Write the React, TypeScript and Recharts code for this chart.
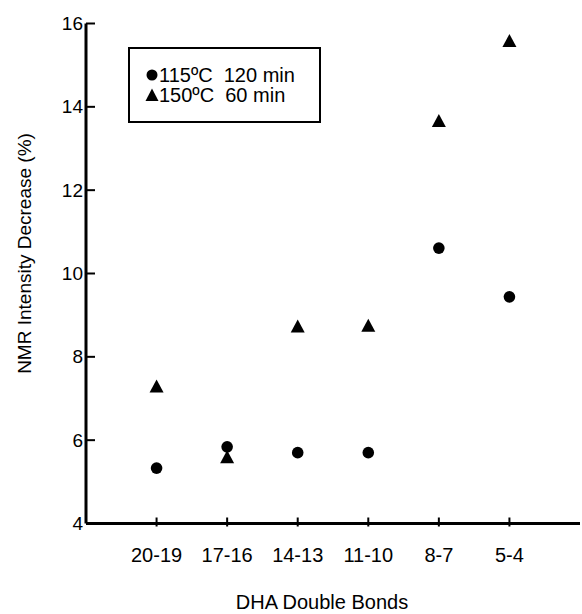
import React from "react";
import { ScatterChart, Scatter, XAxis, YAxis, Customized } from "recharts";

const categories = ["20-19", "17-16", "14-13", "11-10", "8-7", "5-4"];
const series115 = [5.33, 5.84, 5.7, 5.7, 10.61, 9.44];
const series150 = [7.3, 5.6, 8.74, 8.76, 13.67, 15.59];
const yTicks = [4, 6, 8, 10, 12, 14, 16];
const xTicks = [1, 2, 3, 4, 5, 6];
const legendLabels = ["115ºC  120 min", "150ºC  60 min"];

const FONT = "'Liberation Sans', Arial, Helvetica, sans-serif";

const data115 = categories.map((c, i) => ({ x: i + 1, y: series115[i], cat: c }));
const data150 = categories.map((c, i) => ({ x: i + 1, y: series150[i], cat: c }));

const CircleShape = (props: any) => {
  const { cx, cy } = props;
  if (cx == null || cy == null) return null;
  return <circle cx={cx} cy={cy} r={5.8} fill="#000" />;
};

const TriangleShape = (props: any) => {
  const { cx, cy } = props;
  if (cx == null || cy == null) return null;
  const w = 14;
  const h = 13;
  const pts = `${cx},${cy - h / 2} ${cx - w / 2},${cy + h / 2} ${cx + w / 2},${cy + h / 2}`;
  return <polygon points={pts} fill="#000" />;
};

const YTick = (props: any) => {
  const { x, y, payload } = props;
  return (
    <g>
      <line x1={x} x2={x + 9} y1={y} y2={y} stroke="#000" strokeWidth={2} />
      <text x={x - 3} y={y} textAnchor="end" dominantBaseline="central" fontSize={19} fontFamily={FONT} fill="#000">
        {payload.value}
      </text>
    </g>
  );
};

const XTick = (props: any) => {
  const { x, y, payload } = props;
  const label = categories[payload.value - 1] ?? "";
  return (
    <g>
      <line x1={x} x2={x} y1={y - 6} y2={y + 3} stroke="#000" strokeWidth={2} />
      <text x={x} y={y + 38} textAnchor="middle" fontSize={20} fontFamily={FONT} fill="#000">
        {label}
      </text>
    </g>
  );
};

const LegendBox = () => (
  <g>
    <rect x={129} y={48} width={191} height={74} fill="#fff" stroke="#000" strokeWidth={2} />
    <circle cx={152} cy={75} r={5.5} fill="#000" />
    <polygon points="152,88.5 145.5,101 158.5,101" fill="#000" />
    <text x={159} y={82} fontSize={20} fontFamily={FONT} fill="#000" style={{ whiteSpace: "pre" }}>
      {legendLabels[0]}
    </text>
    <text x={159} y={102} fontSize={20} fontFamily={FONT} fill="#000" style={{ whiteSpace: "pre" }}>
      {legendLabels[1]}
    </text>
  </g>
);

export default function App() {
  return (
    <div style={{ position: "absolute", left: 0, top: 0, width: 582, height: 614, overflow: "hidden", background: "#fff" }}>
      <ScatterChart width={582} height={614} margin={{ top: 23.5, right: 2, bottom: 30.5, left: 0 }}>
        <XAxis
          dataKey="x"
          type="number"
          domain={[0, 7]}
          ticks={xTicks}
          height={60}
          tickSize={0}
          tickMargin={0}
          tickLine={false}
          axisLine={{ stroke: "#000", strokeWidth: 3 }}
          tick={<XTick />}
          interval={0}
          label={{
            value: "DHA Double Bonds",
            content: (p: any) => {
              const vb = p.viewBox || { x: 86, y: 523.5, width: 494 };
              return (
                <text x={vb.x + vb.width / 2 - 11} y={vb.y + 85} textAnchor="middle" fontSize={20} fontFamily={FONT} fill="#000">
                  DHA Double Bonds
                </text>
              );
            },
          }}
        />
        <XAxis xAxisId="top" orientation="top" type="number" domain={[0, 7]} height={0} tick={false} tickLine={false} axisLine={{ stroke: "#000", strokeWidth: 2 }} />
        <YAxis
          dataKey="y"
          type="number"
          domain={[4, 16]}
          ticks={yTicks}
          width={86}
          tickSize={0}
          tickMargin={0}
          tickLine={false}
          axisLine={{ stroke: "#000", strokeWidth: 3 }}
          tick={<YTick />}
          interval={0}
          label={{
            value: "NMR Intensity Decrease (%)",
            content: (p: any) => {
              const vb = p.viewBox || { x: 0, y: 23.5, height: 500 };
              const cy = vb.y + vb.height / 2 - 20;
              return (
                <text x={24} y={cy} transform={`rotate(-90, 24, ${cy})`} textAnchor="middle" dominantBaseline="central" fontSize={19} fontFamily={FONT} fill="#000">
                  NMR Intensity Decrease (%)
                </text>
              );
            },
          }}
        />
        <YAxis yAxisId="right" orientation="right" type="number" domain={[4, 16]} width={0} tick={false} tickLine={false} axisLine={{ stroke: "#000", strokeWidth: 2 }} />
        <Scatter name={legendLabels[0]} data={data115} shape={<CircleShape />} isAnimationActive={false} />
        <Scatter name={legendLabels[1]} data={data150} shape={<TriangleShape />} isAnimationActive={false} />
        <Customized component={<LegendBox />} />
      </ScatterChart>
    </div>
  );
}
